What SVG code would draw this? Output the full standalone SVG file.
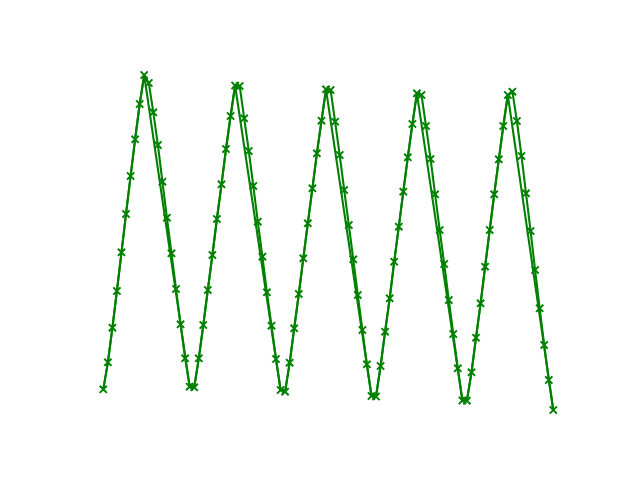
<svg xmlns="http://www.w3.org/2000/svg" width="640" height="480" viewBox="0 0 640 480">
<style>
.ln{fill:none;stroke:#008000;stroke-width:2.08;stroke-linejoin:round;stroke-linecap:square}
.mk{fill:none;stroke:#008000;stroke-width:2}
</style>
<defs>
<marker id="x" markerUnits="userSpaceOnUse" viewBox="-5 -5 10 10" markerWidth="10" markerHeight="10" refX="0" refY="0" orient="0" overflow="visible">
<path class="mk" d="M-3.6,-3.6L3.6,3.6M-3.6,3.6L3.6,-3.6"/>
</marker>
</defs>
<rect width="640" height="480" fill="#ffffff"/>
<g id="connectors">
<polyline id="shortcut" class="ln" points="103.3,389.3 107.9,362.3 112.4,327.7 116.9,291 121.5,252.3 126,214 130.6,176 135.1,139.3 139.7,104 144.2,75 189.7,386.7 194.2,387.3 198.8,358.3 203.3,325 207.8,290 212.4,255 216.9,219 221.5,184.3 226,149 230.6,116 235.1,85.5 280.6,390 285.1,391.7 289.7,362.7 294.2,328.3 298.8,294 303.3,258.3 307.8,223.3 312.4,188.3 316.9,153.3 321.5,120.7 326,89.3 371.5,396 376,396.5 380.6,366 385.1,331.7 389.7,298.3 394.2,261.7 398.8,226.7 403.3,191.7 407.8,157.3 412.4,124 416.9,93.3 462.4,400.5 466.9,400.7 471.5,372.3 476,337.7 480.6,303.3 485.1,266.7 489.7,230 494.2,194.3 498.8,159.3 503.3,126 507.8,95 553.3,410"/>
<polyline id="series" class="ln" marker-start="url(#x)" marker-mid="url(#x)" marker-end="url(#x)" points="103.3,389.3 107.9,362.3 112.4,327.7 116.9,291 121.5,252.3 126,214 130.6,176 135.1,139.3 139.7,104 144.2,75 148.8,83 153.3,112.3 157.9,145 162.4,181.7 166.9,217.7 171.5,253.3 176,289 180.6,324.3 185.1,358.3 189.7,386.7 194.2,387.3 198.8,358.3 203.3,325 207.8,290 212.4,255 216.9,219 221.5,184.3 226,149 230.6,116 235.1,85.5 239.7,86 244.2,118.3 248.8,151 253.3,186 257.8,221.7 262.4,256.7 266.9,292.3 271.5,325.7 276,359 280.6,390 285.1,391.7 289.7,362.7 294.2,328.3 298.8,294 303.3,258.3 307.8,223.3 312.4,188.3 316.9,153.3 321.5,120.7 326,89.3 330.6,90 335.1,121.7 339.7,155 344.2,190 348.8,225 353.3,259.3 357.8,295 362.4,330 366.9,364.3 371.5,396 376,396.5 380.6,366 385.1,331.7 389.7,298.3 394.2,261.7 398.8,226.7 403.3,191.7 407.8,157.3 412.4,124 416.9,93.3 421.5,95 426,126 430.6,159 435.1,194.3 439.7,230 444.2,264 448.8,300 453.3,334 457.8,368.3 462.4,400.5 466.9,400.7 471.5,372.3 476,337.7 480.6,303.3 485.1,266.7 489.7,230 494.2,194.3 498.8,159.3 503.3,126 507.8,95 512.4,91.7 516.9,121 521.5,156 526,193.3 530.6,231 535.1,270 539.7,308.3 544.2,345 548.8,380 553.3,410"/>
</g>
</svg>
